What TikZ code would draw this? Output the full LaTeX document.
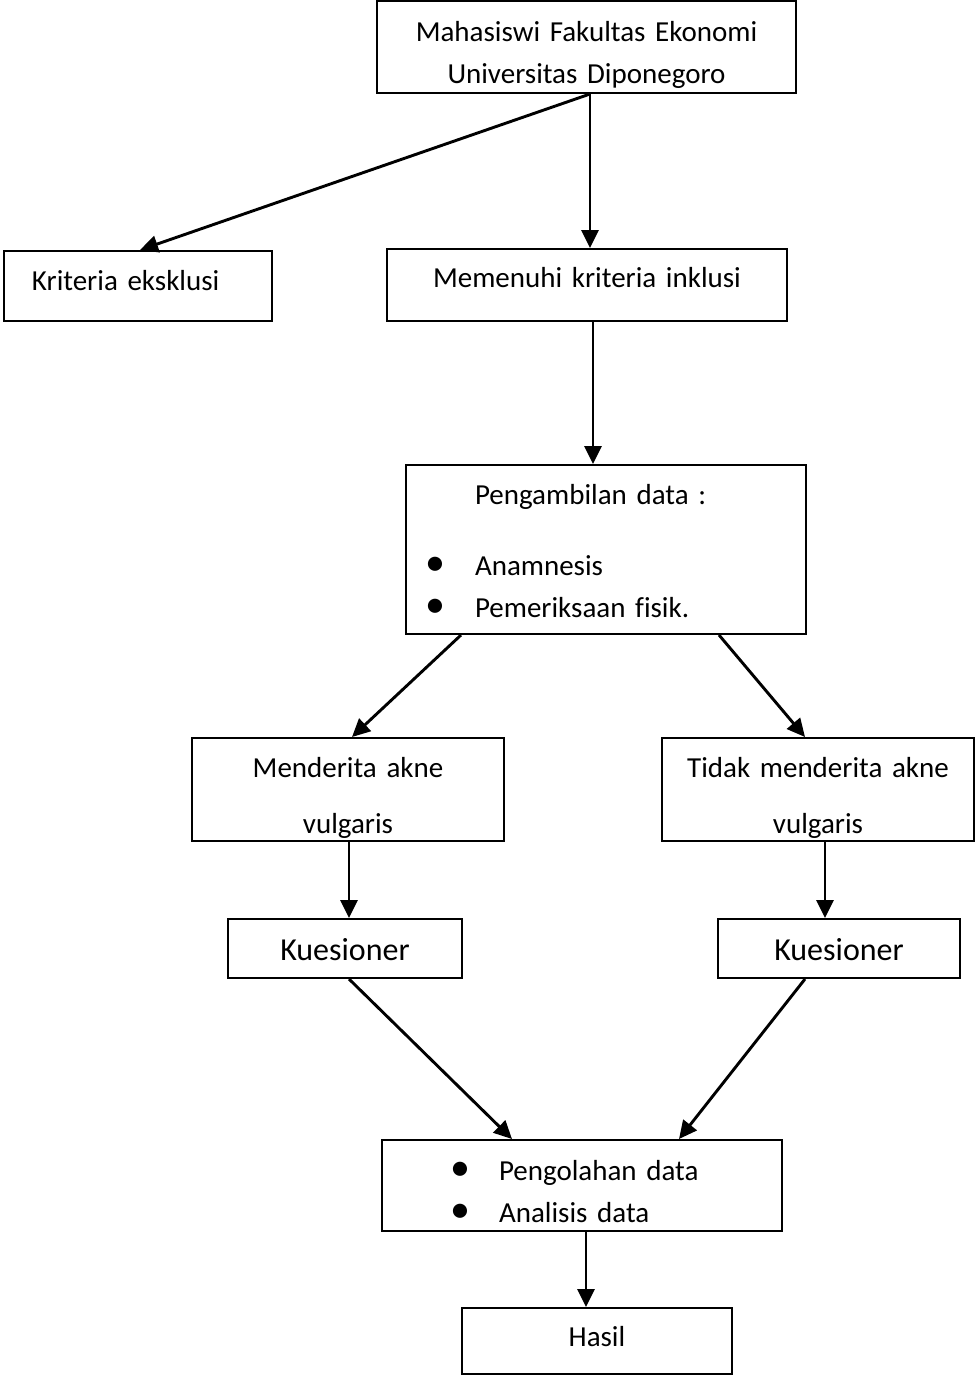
\documentclass[tikz,border=0pt]{standalone}
\usepackage{fontspec}
\setmainfont[Ligatures=NoCommon, WordSpace=0.85]{Carlito}
\usetikzlibrary{arrows.meta, positioning, calc}

\tikzset{
  kotak/.style={draw, line width=1pt, inner sep=0pt, align=center,
    font=\fontsize{14.5}{21}\selectfont},
  panah/.style={-{Triangle[length=9pt,width=8.5pt]}, line width=1.45pt},
}
\newcommand{\butir}{{\fontsize{20}{20}\selectfont\textbullet}}

\begin{document}
\begin{tikzpicture}[x=0.5pt, y=-0.5pt]
  \useasboundingbox (0,0) rectangle (976,1376);

  % --- Kotak-kotak ---
  \node[kotak, text width=209.5pt, text height=20pt, text depth=26pt]
    (mhs) at (586.5,47) {Mahasiswi Fakultas Ekonomi\\Universitas Diponegoro};
  \node[kotak, align=left, inner xsep=14pt, text width=106pt,
    text height=19.5pt, text depth=15.5pt]
    (eksklusi) at (138,286) {Kriteria eksklusi};
  \node[kotak, text width=200pt, text height=19pt, text depth=17pt]
    (inklusi) at (587,285) {Memenuhi kriteria inklusi};
  \node[kotak, align=left, text width=200pt, text height=19.5pt, text depth=65pt]
    (ambil) at (606,549.5)
    {\hspace*{34.5pt}Pengambilan data :\\[14.5pt]
     \hspace*{9.5pt}\makebox[25pt][l]{\butir}Anamnesis\\
     \hspace*{9.5pt}\makebox[25pt][l]{\butir}Pemeriksaan fisik.};

  \node[kotak, font=\fontsize{14.5}{28}\selectfont, text width=156pt,
    text height=19.5pt, text depth=32pt]
    (akne) at (348,789.5) {Menderita akne\\vulgaris};
  \node[kotak, font=\fontsize{14.5}{28}\selectfont, text width=156pt,
    text height=19.5pt, text depth=32pt]
    (tidak) at (818,789.5) {Tidak menderita akne\\vulgaris};

  \node[kotak, font=\fontsize{16}{20}\selectfont, text width=117pt,
    text height=20.5pt, text depth=9pt]
    (kuesA) at (345,948.5) {Kuesioner};
  \node[kotak, font=\fontsize{16}{20}\selectfont, text width=121pt,
    text height=20.5pt, text depth=9pt]
    (kuesB) at (839,948.5) {Kuesioner};

  \node[kotak, align=left, text width=200pt, text height=20pt, text depth=25.5pt]
    (olah) at (582,1185.5)
    {\hspace*{34pt}\makebox[24.5pt][l]{\butir}Pengolahan data\\
     \hspace*{34pt}\makebox[24.5pt][l]{\butir}Analisis data};
  \node[kotak, text width=135pt, text height=19pt, text depth=14pt]
    (hasil) at (597,1341) {Hasil};

  % --- Panah ---
  \draw[panah] ($(mhs.south)+(3.5,0)$) coordinate (pisah) -- (pisah |- inklusi.north);
  \draw[panah] (pisah) -- ($(eksklusi.north)+(2,0)$);
  \draw[panah] ($(inklusi.south)+(6,0)$) coordinate (p1) -- (p1 |- ambil.north);
  \draw[panah] ($(ambil.south west)+(56,0)$) -- ($(akne.north)+(4,0)$);
  \draw[panah] ($(ambil.south east)+(-88,0)$) -- ($(tidak.north)+(-13,0)$);
  \draw[panah] ($(akne.south)+(1,0)$) coordinate (p2) -- (p2 |- kuesA.north);
  \draw[panah] ($(tidak.south)+(7,0)$) coordinate (p3) -- (p3 |- kuesB.north);
  \draw[panah] ($(kuesA.south)+(4,0)$) -- ($(olah.north west)+(131,0)$);
  \draw[panah] ($(kuesB.south west)+(88,0)$) -- ($(olah.north west)+(298,0)$);
  \draw[panah] ($(olah.south)+(4,0)$) coordinate (p4) -- (p4 |- hasil.north);
\end{tikzpicture}
\end{document}
